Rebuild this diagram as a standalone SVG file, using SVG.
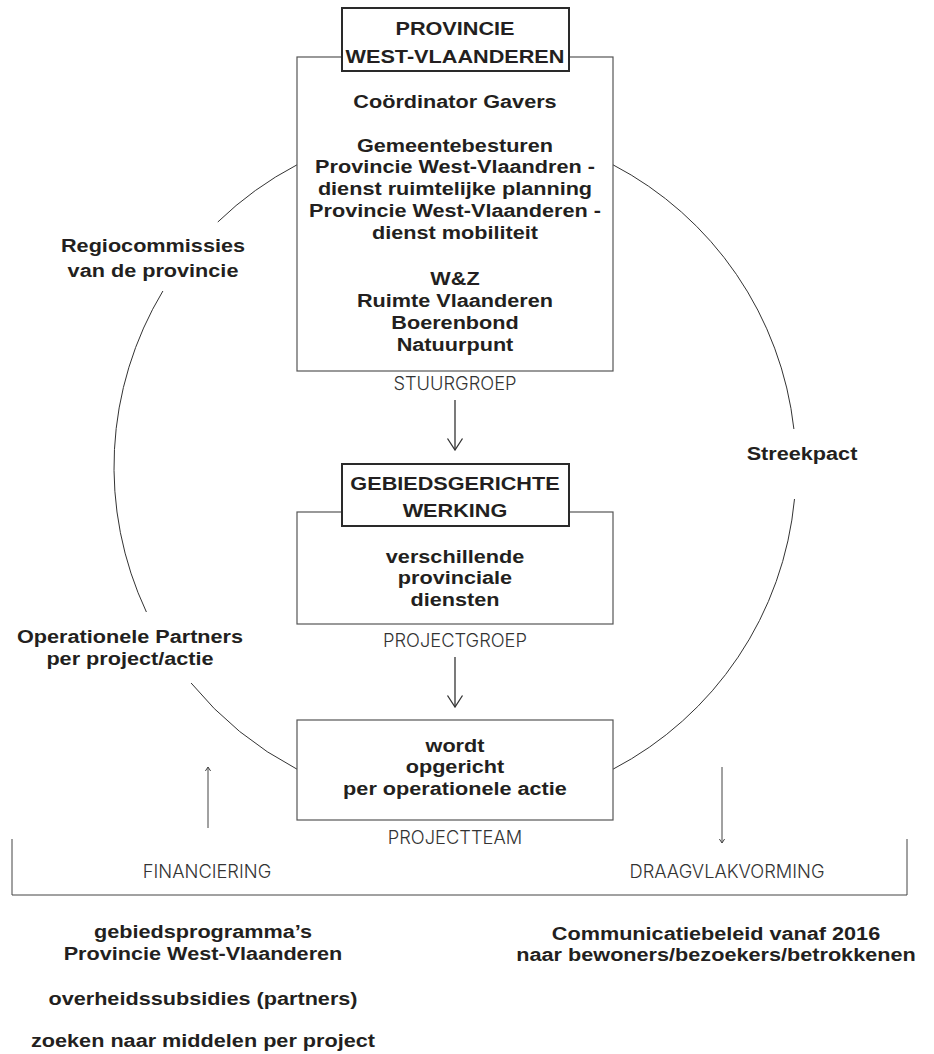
<svg xmlns="http://www.w3.org/2000/svg" width="934" height="1054" viewBox="0 0 934 1054">
<defs>
<style>
.bg{fill:#fff}
.box{fill:#fff;stroke:#555;stroke-width:1.2}
.lbox{fill:#fff;stroke:#2a2a2a;stroke-width:2}
.b{font-family:"Liberation Sans",Arial,sans-serif;font-weight:700;font-size:19px;fill:#231f20;text-anchor:middle}
.c{font-family:Inter,"Noto Sans","Liberation Sans",sans-serif;font-weight:300;font-size:18.3px;fill:#333;text-anchor:middle}
.arc{fill:none;stroke:#333;stroke-width:1}
.con{fill:none;stroke:#333;stroke-width:1.3}
.thin{fill:none;stroke:#444;stroke-width:1}
</style>
<marker id="headL" markerUnits="userSpaceOnUse" viewBox="-13 -9 14 18" refX="0" refY="0" markerWidth="14" markerHeight="18" orient="auto">
<path d="M-11.5,-7.5 L0,0 L-11.5,7.5" fill="none" stroke="#333" stroke-width="1.3"/>
</marker>
<marker id="headS" markerUnits="userSpaceOnUse" viewBox="-6 -4 7 8" refX="0" refY="0" markerWidth="7" markerHeight="8" orient="auto">
<path d="M-4,-2.6 L0,0 L-4,2.6" fill="none" stroke="#444" stroke-width="1"/>
</marker>
</defs>
<rect class="bg" x="0" y="0" width="934" height="1054"/>

<g id="cycle">
<path class="arc" d="M297,164.8 A341,341 0 0 0 217.8,222"/>
<path class="arc" d="M162.9,291 A341,341 0 0 0 146.4,612"/>
<path class="arc" d="M191.1,683 A341,341 0 0 0 297,769.2"/>
<path class="arc" d="M613,164.8 A341,341 0 0 1 793.9,429"/>
<path class="arc" d="M794.5,499 A341,341 0 0 1 613,769.2"/>
</g>

<g id="connectors">
<line class="con" x1="455" y1="400" x2="455" y2="450" marker-end="url(#headL)"/>
<line class="con" x1="455" y1="657" x2="455" y2="707" marker-end="url(#headL)"/>
<line class="thin" x1="208" y1="828" x2="208" y2="767" marker-end="url(#headS)"/>
<line class="thin" x1="722" y1="767" x2="722" y2="843" marker-end="url(#headS)"/>
<path class="thin" d="M12,839 V895 H907 V839"/>
</g>

<g id="node-stuurgroep">
<rect class="box" x="297" y="57" width="316" height="314"/>
<rect class="lbox" x="342" y="8" width="227" height="63"/>
<g transform="translate(455 0) scale(1.14 1)">
<text class="b"><tspan x="0" y="35">PROVINCIE</tspan><tspan x="0" y="63">WEST-VLAANDEREN</tspan></text>
<text class="b" x="0" y="108">Coördinator Gavers</text>
<text class="b"><tspan x="0" y="152">Gemeentebesturen</tspan><tspan x="0" y="173.5">Provincie West-Vlaandren -</tspan><tspan x="0" y="195.5">dienst ruimtelijke planning</tspan><tspan x="0" y="217.5">Provincie West-Vlaanderen -</tspan><tspan x="0" y="239.5">dienst mobiliteit</tspan></text>
<text class="b"><tspan x="0" y="285.5">W&amp;Z</tspan><tspan x="0" y="307">Ruimte Vlaanderen</tspan><tspan x="0" y="329">Boerenbond</tspan><tspan x="0" y="351">Natuurpunt</tspan></text>
</g>
<text class="c" x="455" y="390">STUURGROEP</text>
</g>

<g id="node-projectgroep">
<rect class="box" x="297" y="512" width="316" height="112"/>
<rect class="lbox" x="342" y="464" width="227" height="62"/>
<g transform="translate(455 0) scale(1.14 1)">
<text class="b"><tspan x="0" y="490">GEBIEDSGERICHTE</tspan><tspan x="0" y="517">WERKING</tspan></text>
<text class="b"><tspan x="0" y="563">verschillende</tspan><tspan x="0" y="584.5">provinciale</tspan><tspan x="0" y="606">diensten</tspan></text>
</g>
<text class="c" x="455" y="647">PROJECTGROEP</text>
</g>

<g id="node-projectteam">
<rect class="box" x="297" y="720" width="316" height="100"/>
<g transform="translate(455 0) scale(1.14 1)">
<text class="b"><tspan x="0" y="752">wordt</tspan><tspan x="0" y="773.5">opgericht</tspan><tspan x="0" y="795.5">per operationele actie</tspan></text>
</g>
<text class="c" x="455" y="844">PROJECTTEAM</text>
</g>

<g id="label-regio" transform="translate(153 0) scale(1.14 1)">
<text class="b"><tspan x="0" y="252">Regiocommissies</tspan><tspan x="0" y="277">van de provincie</tspan></text>
</g>
<g id="label-operationele" transform="translate(130 0) scale(1.14 1)">
<text class="b"><tspan x="0" y="643">Operationele Partners</tspan><tspan x="0" y="665">per project/actie</tspan></text>
</g>
<g id="label-streekpact" transform="translate(802 0) scale(1.14 1)">
<text class="b" x="0" y="460">Streekpact</text>
</g>

<g id="label-financiering">
<text class="c" x="207" y="878">FINANCIERING</text>
<g transform="translate(203 0) scale(1.14 1)">
<text class="b"><tspan x="0" y="938">gebiedsprogramma’s</tspan><tspan x="0" y="960">Provincie West-Vlaanderen</tspan></text>
<text class="b" x="0" y="1005">overheidssubsidies (partners)</text>
<text class="b" x="0" y="1047">zoeken naar middelen per project</text>
</g>
</g>
<g id="label-draagvlak">
<text class="c" x="727" y="878">DRAAGVLAKVORMING</text>
<g transform="translate(716 0) scale(1.14 1)">
<text class="b"><tspan x="0" y="940">Communicatiebeleid vanaf 2016</tspan><tspan x="0" y="961">naar bewoners/bezoekers/betrokkenen</tspan></text>
</g>
</g>
</svg>
